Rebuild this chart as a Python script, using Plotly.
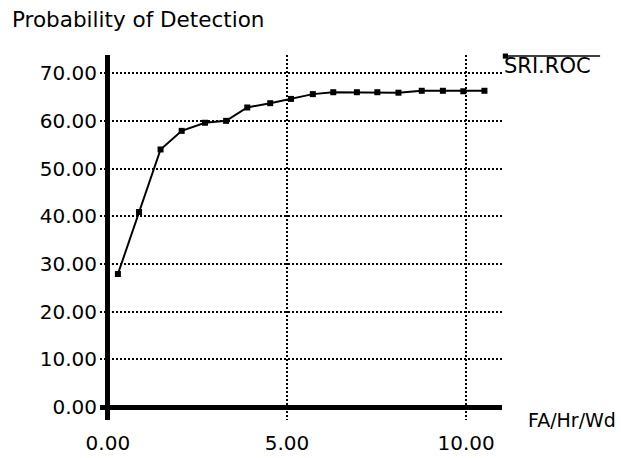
import plotly.graph_objects as go

# Data
fa_per_hr_wd = [0.28, 0.87, 1.47, 2.06, 2.71, 3.30, 3.89, 4.53, 5.11, 5.72,
                6.29, 6.95, 7.52, 8.11, 8.76, 9.35, 9.92, 10.51]
prob_detection = [27.9, 40.9, 54.0, 57.9, 59.6, 60.0, 62.8, 63.7, 64.6, 65.6,
                  66.0, 66.0, 66.0, 65.9, 66.3, 66.3, 66.2, 66.3]
series_name = "SRI.ROC"
x_ticks = [0, 5, 10]
y_ticks = [0, 10, 20, 30, 40, 50, 60, 70]

FONT = "DejaVu Sans"

fig = go.Figure()
fig.add_trace(go.Scatter(
    x=fa_per_hr_wd, y=prob_detection, mode="lines+markers",
    name=series_name, showlegend=False,
    line=dict(color="black", width=2),
    marker=dict(symbol="square", size=6, color="black"),
))

grid_style = dict(showgrid=True, gridcolor="black", gridwidth=1.6, griddash="2px,2px",
                  zeroline=True, zerolinecolor="black", zerolinewidth=5,
                  showline=False, ticks="", tickformat=".2f", automargin=False,
                  tickfont=dict(family=FONT, size=20, color="black"))

fig.update_xaxes(range=[-0.22, 11.0], tickvals=x_ticks, ticklabelstandoff=9, **grid_style)
fig.update_yaxes(range=[-2.7, 73.8], tickvals=y_ticks, ticklabelstandoff=2, **grid_style)

fig.update_layout(
    width=621, height=458,
    margin=dict(l=100, r=119, t=55, b=38),
    paper_bgcolor="white", plot_bgcolor="white",
    font=dict(family=FONT, size=20, color="black"),
    annotations=[
        dict(text="Probability of Detection", xref="paper", yref="paper",
             x=-0.224, y=1.096, xanchor="left", yanchor="middle", showarrow=False,
             font=dict(family=FONT, size=21.5, color="black")),
        dict(text="FA/Hr/Wd", xref="paper", yref="paper",
             x=1.06, y=0.0, xanchor="left", yanchor="middle", showarrow=False,
             font=dict(family=FONT, size=19, color="black")),
        dict(text=series_name, xref="paper", yref="paper",
             x=1.0, y=0.97, xanchor="left", yanchor="middle", showarrow=False,
             font=dict(family=FONT, size=21, color="black")),
    ],
    shapes=[
        dict(type="line", xref="paper", yref="paper", x0=1.007, x1=1.244, y0=0.997, y1=0.997,
             line=dict(color="black", width=1.5)),
        dict(type="rect", xref="paper", yref="paper", x0=1.002, x1=1.015, y0=0.99, y1=1.004,
             line=dict(width=0), fillcolor="black"),
    ],
)

fig.write_html("out.html", config={"displayModeBar": False},
               post_script="document.body.style.margin='0px';")
